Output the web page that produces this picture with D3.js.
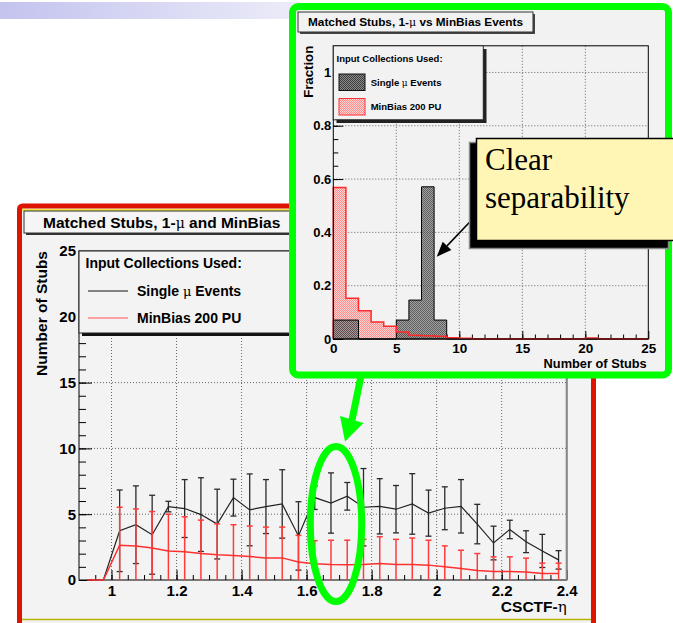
<!DOCTYPE html>
<html lang="en">
<head>
<meta charset="UTF-8">
<title>Matched Stubs</title>
<script src="https://cdn.jsdelivr.net/npm/d3@7"></script>
<style>
  body { margin: 0; background: #fff; }
  svg { display: block; font-family: "Liberation Sans", Arial, sans-serif; }
  .grid line { stroke: #555; stroke-dasharray: 1,2; stroke-width: 0.9; }
</style>
</head>
<body>
<svg width="673" height="623"></svg>
<script>
// ---- main plot: matched stubs vs CSCTF eta (bin width 0.05)
const etaCenters = [0.925, 0.975, 1.025, 1.075, 1.125, 1.175, 1.225, 1.275, 1.325, 1.375,
                    1.425, 1.475, 1.525, 1.575, 1.625, 1.675, 1.725, 1.775, 1.825, 1.875,
                    1.925, 1.975, 2.025, 2.075, 2.125, 2.175, 2.225, 2.275, 2.325, 2.375];
const muStubs = [0, 0, 3.74, 4.2, 3.44, 5.58, 5.43, 4.97, 4.25, 6.26,
                 5.33, 5.58, 5.78, 3.35, 6.26, 5.85, 6.36, 5.53, 5.6, 5.38,
                 5.78, 5.08, 5.45, 5.6, 4.25, 2.81, 3.84, 2.91, 2.21, 1.53];
const muErr = [0, 0, 3.1, 2.95, 3.0, 0.4, 2.2, 2.8, 2.65, 1.4,
               2.73, 2.05, 2.6, 2.6, 0.9, 2.29, 1.05, 2.94, 2.1, 1.8,
               2.3, 1.75, 1.63, 2.03, 1.5, 1.28, 0.7, 0.83, 1.26, 0.7];
const mbStubs = [0, 0, 2.64, 2.59, 2.44, 2.21, 2.14, 2.01, 1.91, 1.86,
                 1.78, 1.68, 1.68, 1.37, 1.23, 1.18, 1.16, 1.18, 1.26, 1.18,
                 1.18, 1.13, 1.0, 0.88, 0.73, 0.65, 0.65, 0.6, 0.5, 0.5];
const mbErr = [0, 0, 2.89, 2.81, 2.76, 2.79, 2.66, 2.54, 2.36, 2.34,
               2.32, 2.34, 2.34, 2.02, 1.76, 1.84, 1.86, 1.91, 2.03, 1.91,
               2.01, 1.89, 1.59, 1.38, 1.28, 1.11, 1.11, 1.06, 0.78, 0.78];
const etaTicks = [1, 1.2, 1.4, 1.6, 1.8, 2, 2.2, 2.4];
const stubTicks = [0, 5, 10, 15, 20, 25];

// ---- inset: fraction of events vs number of stubs (bins of 1)
const stubBinEdges = [0, 1, 2, 3, 4, 5, 6, 7, 8, 9, 10, 11, 12, 13, 14, 15, 16, 17, 18, 19, 20, 21, 22, 23, 24, 25];
const muFrac = [0.071, 0.071, 0, 0, 0, 0.071, 0.146, 0.571, 0.071, 0,
                0, 0, 0, 0, 0, 0, 0, 0, 0, 0, 0, 0, 0, 0, 0];
const mbFrac = [0.568, 0.153, 0.106, 0.064, 0.048, 0.026, 0.014, 0.012, 0.01, 0.005,
                0.003, 0, 0, 0, 0, 0, 0, 0, 0, 0, 0.004, 0, 0, 0, 0];
const fracTicks = [0, 0.2, 0.4, 0.6, 0.8, 1];
const nStubTicks = [0, 5, 10, 15, 20, 25];

const svg = d3.select("svg");
const defs = svg.append("defs");

// slide header bar
const hdr = defs.append("linearGradient").attr("id", "hdr");
hdr.append("stop").attr("offset", "0%").attr("stop-color", "#c3c3ef");
hdr.append("stop").attr("offset", "100%").attr("stop-color", "#ececf9");
svg.append("rect").attr("x", 0).attr("y", 2).attr("width", 300).attr("height", 17).attr("fill", "url(#hdr)");

// root-like fill patterns
function pattern(id, bg, dot) {
  const p = defs.append("pattern").attr("id", id).attr("width", 2).attr("height", 2)
    .attr("patternUnits", "userSpaceOnUse");
  p.append("rect").attr("width", 2).attr("height", 2).attr("fill", bg);
  p.append("rect").attr("width", 1).attr("height", 1).attr("fill", dot);
  p.append("rect").attr("x", 1).attr("y", 1).attr("width", 1).attr("height", 1).attr("fill", dot);
}
pattern("redPat", "#ffd6d6", "#ff8a8a");
pattern("blkPat", "#8c8c8c", "#3c3c3c");

// the inset hides the right part of the main title
defs.append("clipPath").attr("id", "titleClip")
  .append("rect").attr("x", 20).attr("y", 205).attr("width", 272).attr("height", 40);

function styleAxis(g, size) {
  g.select(".domain").remove();
  g.attr("font-family", "Liberation Sans, Arial, sans-serif").attr("font-size", size);
  g.selectAll(".tick text").attr("font-weight", "bold").attr("fill", "#000");
  g.selectAll(".tick line").attr("stroke", "#000");
}

// ================= main chart =================
const xL = d3.scaleLinear().domain([0.9, 2.4]).range([79, 566.7]);
const yL = d3.scaleLinear().domain([0, 25]).range([580, 251]);

svg.append("rect").attr("x", 19.5).attr("y", 206).attr("width", 574).attr("height", 430).attr("rx", 3)
  .attr("fill", "#f3f3f3").attr("stroke", "#dc1400").attr("stroke-width", 5);
svg.append("line").attr("x1", 22).attr("x2", 591).attr("y1", 210).attr("y2", 210)
  .attr("stroke", "#f0e600").attr("stroke-width", 1.5);
svg.append("line").attr("x1", 22).attr("x2", 591).attr("y1", 619.5).attr("y2", 619.5)
  .attr("stroke", "#b4b400").attr("stroke-width", 1.5);

// title box
const tb = svg.append("g").attr("clip-path", "url(#titleClip)");
tb.append("rect").attr("x", 26).attr("y", 213).attr("width", 380).attr("height", 22).attr("fill", "#333");
tb.append("rect").attr("x", 24).attr("y", 211).attr("width", 380).attr("height", 22)
  .attr("fill", "#f5f5f5").attr("stroke", "#333");
const t1 = tb.append("text").attr("x", 43).attr("y", 228).attr("font-size", 15.5).attr("font-weight", "bold");
t1.append("tspan").text("Matched Stubs, 1-");
t1.append("tspan").attr("font-weight", "normal").attr("font-family", "DejaVu Serif, serif").attr("font-size", 14).text("μ");
t1.append("tspan").text(" and MinBias");

// grid
const gridL = svg.append("g").attr("class", "grid");
gridL.selectAll(".v").data(etaTicks.filter(d => d < 2.4)).join("line")
  .attr("x1", d => xL(d)).attr("x2", d => xL(d)).attr("y1", yL(25)).attr("y2", yL(0));
gridL.selectAll(".h").data(stubTicks.filter(d => d > 0 && d < 25)).join("line")
  .attr("x1", xL(0.9)).attr("x2", xL(2.4)).attr("y1", d => yL(d)).attr("y2", d => yL(d));

// axes (ticks inside the frame, like ROOT)
svg.append("g").attr("transform", "translate(0,580)")
  .call(d3.axisBottom(xL).tickValues(d3.range(19, 48).map(i => i * 0.05)).tickSize(-5).tickFormat(""))
  .call(g => styleAxis(g, 15));
svg.append("g").attr("transform", "translate(0,580)")
  .call(d3.axisBottom(xL).tickValues(etaTicks).tickSize(-10).tickPadding(5).tickFormat(d3.format("~g")))
  .call(g => styleAxis(g, 15));
svg.append("g").attr("transform", "translate(79,0)")
  .call(d3.axisLeft(yL).tickValues(d3.range(1, 25)).tickSize(-7).tickFormat(""))
  .call(g => styleAxis(g, 15));
svg.append("g").attr("transform", "translate(79,0)")
  .call(d3.axisLeft(yL).tickValues(stubTicks).tickSize(-13).tickPadding(3))
  .call(g => styleAxis(g, 15));

svg.append("rect").attr("x", xL(0.9)).attr("y", yL(25)).attr("width", xL(2.4) - xL(0.9)).attr("height", yL(0) - yL(25))
  .attr("fill", "none").attr("stroke", "#000");
svg.append("line").attr("x1", xL(2.4)).attr("x2", xL(2.4)).attr("y1", yL(25)).attr("y2", yL(0))
  .attr("stroke", "#888").attr("stroke-width", 2);

const muPts = etaCenters.map((e, i) => ({ eta: e, v: muStubs[i], err: muErr[i] }));
const mbPts = etaCenters.map((e, i) => ({ eta: e, v: mbStubs[i], err: mbErr[i] }));
const lineL = d3.line().x(d => xL(d.eta)).y(d => yL(d.v));

function errorBars(pts, color, width) {
  const g = svg.append("g").attr("stroke", color).attr("stroke-width", width);
  const p = pts.filter(d => d.err > 0);
  g.selectAll(".e").data(p).join("line")
    .attr("x1", d => xL(d.eta)).attr("x2", d => xL(d.eta))
    .attr("y1", d => yL(Math.max(0, d.v - d.err))).attr("y2", d => yL(d.v + d.err));
  g.selectAll(".t").data(p).join("line")
    .attr("x1", d => xL(d.eta) - 3).attr("x2", d => xL(d.eta) + 3)
    .attr("y1", d => yL(d.v + d.err)).attr("y2", d => yL(d.v + d.err));
  g.selectAll(".b").data(p.filter(d => d.v - d.err > 0)).join("line")
    .attr("x1", d => xL(d.eta) - 3).attr("x2", d => xL(d.eta) + 3)
    .attr("y1", d => yL(d.v - d.err)).attr("y2", d => yL(d.v - d.err));
}
errorBars(muPts, "#2a2a2a", 1.3);
svg.append("path").datum(muPts).attr("d", lineL).attr("fill", "none").attr("stroke", "#222").attr("stroke-width", 1.2);
errorBars(mbPts, "#ff3c3c", 1.5);
svg.append("path").datum(mbPts).attr("d", lineL).attr("fill", "none").attr("stroke", "#ff3030").attr("stroke-width", 1.5);

// legend
svg.append("rect").attr("x", 82).attr("y", 254).attr("width", 340).attr("height", 82).attr("fill", "#111");
svg.append("rect").attr("x", 79).attr("y", 251).attr("width", 340).attr("height", 82)
  .attr("fill", "#f3f3f3").attr("stroke", "#222");
svg.append("text").attr("x", 85.5).attr("y", 268).attr("font-size", 14).attr("font-weight", "bold")
  .text("Input Collections Used:");
const legL = [{ name: "Single ", tail: " Events", mu: true, color: "#111", y: 291 },
              { name: "MinBias 200 PU", tail: "", mu: false, color: "#ff5050", y: 318 }];
legL.forEach(d => {
  svg.append("line").attr("x1", 88).attr("x2", 128).attr("y1", d.y).attr("y2", d.y)
    .attr("stroke", d.color).attr("stroke-width", 1.2);
  const t = svg.append("text").attr("x", 137).attr("y", d.y + 5).attr("font-size", 14).attr("font-weight", "bold");
  t.append("tspan").text(d.name);
  if (d.mu) t.append("tspan").attr("font-weight", "normal").attr("font-family", "DejaVu Serif, serif").attr("font-size", 13).text("μ");
  t.append("tspan").text(d.tail);
});

// axis titles
svg.append("text").attr("transform", "translate(47,251) rotate(-90)").attr("text-anchor", "end")
  .attr("font-size", 15.5).attr("font-weight", "bold").text("Number of Stubs");
const xt = svg.append("text").attr("x", 566.7).attr("y", 612).attr("text-anchor", "end")
  .attr("font-size", 15.5).attr("font-weight", "bold");
xt.append("tspan").text("CSCTF-");
xt.append("tspan").attr("font-weight", "normal").attr("font-family", "DejaVu Serif, serif").attr("font-size", 15).text("η");

// ================= inset =================
const xI = d3.scaleLinear().domain([0, 25]).range([333.3, 648.3]);
const yI = d3.scaleLinear().domain([0, 1.1]).range([339, 45.8]);

svg.append("rect").attr("x", 292.5).attr("y", 6.5).attr("width", 376).attr("height", 368.5).attr("rx", 6)
  .attr("fill", "#f2f2f2").attr("stroke", "#00ff00").attr("stroke-width", 7);

svg.append("rect").attr("x", 300).attr("y", 14).attr("width", 235).attr("height", 20).attr("fill", "#444");
svg.append("rect").attr("x", 298).attr("y", 12).attr("width", 235).attr("height", 20)
  .attr("fill", "#f2f2f2").attr("stroke", "#333");
const t2 = svg.append("text").attr("x", 308).attr("y", 26).attr("font-size", 11.8).attr("font-weight", "bold");
t2.append("tspan").text("Matched Stubs, 1-");
t2.append("tspan").attr("font-weight", "normal").attr("font-family", "DejaVu Serif, serif").attr("font-size", 11).text("μ");
t2.append("tspan").text(" vs MinBias Events");

const gridI = svg.append("g").attr("class", "grid");
gridI.selectAll(".v").data(nStubTicks.filter(d => d > 0 && d < 25)).join("line")
  .attr("x1", d => xI(d)).attr("x2", d => xI(d)).attr("y1", yI(1.1)).attr("y2", yI(0));
gridI.selectAll(".h").data(fracTicks.filter(d => d > 0)).join("line")
  .attr("x1", xI(0)).attr("x2", xI(25)).attr("y1", d => yI(d)).attr("y2", d => yI(d));

svg.append("g").attr("transform", "translate(0,339)")
  .call(d3.axisBottom(xI).tickValues(d3.range(1, 25)).tickSize(-4.5).tickFormat(""))
  .call(g => styleAxis(g, 13.5));
svg.append("g").attr("transform", "translate(0,339)")
  .call(d3.axisBottom(xI).tickValues(nStubTicks).tickSize(-8).tickPadding(4))
  .call(g => styleAxis(g, 13.5));
svg.append("g").attr("transform", "translate(333.3,0)")
  .call(d3.axisLeft(yI).tickValues(d3.range(1, 22).map(i => i * 0.05)).tickSize(-5).tickFormat(""))
  .call(g => styleAxis(g, 13));
svg.append("g").attr("transform", "translate(333.3,0)")
  .call(d3.axisLeft(yI).tickValues(fracTicks).tickSize(-10).tickPadding(2).tickFormat(d3.format("~g")))
  .call(g => styleAxis(g, 13));

// histograms as step shapes
function stepData(vals) {
  const pts = vals.map((v, i) => ({ x: stubBinEdges[i], v }));
  pts.push({ x: stubBinEdges[vals.length], v: vals[vals.length - 1] });
  return pts;
}
const areaI = d3.area().curve(d3.curveStepAfter).x(d => xI(d.x)).y0(yI(0)).y1(d => yI(d.v));
const lineI = d3.line().curve(d3.curveStepAfter).x(d => xI(d.x)).y(d => yI(d.v));
const mbStep = stepData(mbFrac);
const muStep = stepData(muFrac);

svg.append("path").datum(mbStep).attr("d", areaI).attr("fill", "url(#redPat)");
svg.append("path").datum(muStep).attr("d", areaI).attr("fill", "url(#blkPat)").attr("fill-opacity", 0.8)
  .attr("stroke", "#000").attr("stroke-width", 1);
svg.append("path").datum([{ x: 0, v: 0 }].concat(mbStep)).attr("d", lineI)
  .attr("fill", "none").attr("stroke", "#ff2a2a").attr("stroke-width", 1.5);

svg.append("rect").attr("x", xI(0)).attr("y", yI(1.1)).attr("width", xI(25) - xI(0)).attr("height", yI(0) - yI(1.1))
  .attr("fill", "none").attr("stroke", "#000");

// inset legend
svg.append("rect").attr("x", 336.5).attr("y", 49).attr("width", 150).attr("height", 74).attr("fill", "#222");
svg.append("rect").attr("x", 333.3).attr("y", 45.8).attr("width", 150).attr("height", 74)
  .attr("fill", "#f2f2f2").attr("stroke", "#222");
svg.append("text").attr("x", 336.5).attr("y", 61.5).attr("font-size", 9.5).attr("font-weight", "bold")
  .text("Input Collections Used:");
const legI = [{ name: "Single ", tail: " Events", mu: true, fill: "url(#blkPat)", stroke: "#111", y: 74 },
              { name: "MinBias 200 PU", tail: "", mu: false, fill: "url(#redPat)", stroke: "#ff3030", y: 98.5 }];
legI.forEach(d => {
  svg.append("rect").attr("x", 339).attr("y", d.y).attr("width", 26).attr("height", 16.5)
    .attr("fill", d.fill).attr("stroke", d.stroke);
  const t = svg.append("text").attr("x", 370.7).attr("y", d.y + 11.5).attr("font-size", 9.5).attr("font-weight", "bold");
  t.append("tspan").text(d.name);
  if (d.mu) t.append("tspan").attr("font-weight", "normal").attr("font-family", "DejaVu Serif, serif").attr("font-size", 9).text("μ");
  t.append("tspan").text(d.tail);
});

svg.append("text").attr("transform", "translate(313,45.8) rotate(-90)").attr("text-anchor", "end")
  .attr("font-size", 13.2).attr("font-weight", "bold").text("Fraction");
svg.append("text").attr("x", 646.7).attr("y", 367.5).attr("text-anchor", "end")
  .attr("font-size", 12.8).attr("font-weight", "bold").text("Number of Stubs");

// ================= annotations =================
// black arrow to the single-mu peak
const a0 = [470, 221.7], a1 = [436.7, 256.7];
const dx = a1[0] - a0[0], dy = a1[1] - a0[1], len = Math.hypot(dx, dy);
const ux = dx / len, uy = dy / len;
const hb = [a1[0] - 15 * ux, a1[1] - 15 * uy];
svg.append("line").attr("x1", a0[0]).attr("y1", a0[1]).attr("x2", hb[0]).attr("y2", hb[1])
  .attr("stroke", "#000").attr("stroke-width", 1.6);
svg.append("polygon").attr("fill", "#000")
  .attr("points", [a1, [hb[0] + 6 * uy, hb[1] - 6 * ux], [hb[0] - 6 * uy, hb[1] + 6 * ux]].map(p => p.join(",")).join(" "));

// callout box
svg.append("rect").attr("x", 469.5).attr("y", 142.5).attr("width", 199).attr("height", 106)
  .attr("fill", "#000").attr("stroke", "#8a8a8a").attr("stroke-width", 1.5);
svg.append("rect").attr("x", 476.5).attr("y", 138.5).attr("width", 210).attr("height", 102)
  .attr("fill", "#fff6b5").attr("stroke", "#000").attr("stroke-width", 1.5);
svg.append("text").attr("x", 485).attr("y", 170).attr("font-family", "Liberation Serif, Times New Roman, serif")
  .attr("font-size", 31).text("Clear");
svg.append("text").attr("x", 485).attr("y", 208).attr("font-family", "Liberation Serif, Times New Roman, serif")
  .attr("font-size", 31).text("separability");

// green arrow and ellipse
svg.append("line").attr("x1", 361).attr("y1", 376).attr("x2", 352).attr("y2", 420)
  .attr("stroke", "#00ff00").attr("stroke-width", 7);
svg.append("polygon").attr("points", "340,416 363.5,423 345,441.5").attr("fill", "#00ff00");
svg.append("ellipse").attr("cx", 336).attr("cy", 524).attr("rx", 25.7).attr("ry", 77.5)
  .attr("fill", "none").attr("stroke", "#00ff00").attr("stroke-width", 7);
</script>
</body>
</html>
